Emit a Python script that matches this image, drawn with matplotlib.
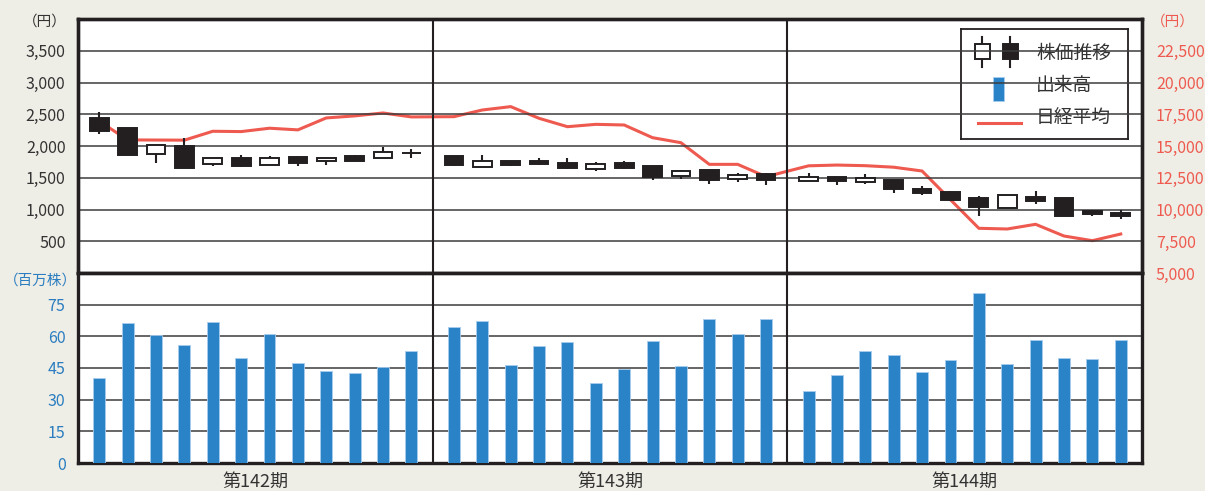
import numpy as np
import matplotlib
matplotlib.use("Agg")
import matplotlib.pyplot as plt
from matplotlib.patches import Rectangle
from matplotlib.lines import Line2D

plt.rcParams['font.family'] = ['Noto Sans CJK JP', 'DejaVu Sans']

# --- data ---
periods = ['第142期', '第143期', '第144期']

price_open = [2440, 2285, 1870, 2000, 1710, 1815, 1700, 1830, 1760, 1838, 1812, 1895,
              1835, 1675, 1763, 1763, 1727, 1644, 1732, 1680, 1520, 1629, 1479, 1557,
              1453, 1510, 1440, 1458, 1316, 1274, 1179, 1021, 1189, 1174, 979, 945]
price_high = [2540, 2285, 2012, 2120, 1810, 1865, 1840, 1840, 1815, 1855, 1985, 1960,
              1835, 1856, 1765, 1810, 1810, 1753, 1768, 1680, 1624, 1629, 1582, 1570,
              1574, 1510, 1553, 1458, 1363, 1285, 1210, 1226, 1290, 1174, 985, 985]
price_low = [2185, 1855, 1740, 1655, 1680, 1676, 1697, 1686, 1697, 1765, 1812, 1812,
             1690, 1675, 1690, 1695, 1630, 1613, 1645, 1459, 1485, 1397, 1428, 1392,
             1453, 1390, 1405, 1263, 1232, 1140, 895, 1021, 1090, 905, 905, 845]
price_close = [2240, 1855, 2012, 1655, 1805, 1680, 1805, 1740, 1810, 1770, 1912, 1895,
               1706, 1763, 1706, 1711, 1660, 1711, 1655, 1510, 1603, 1459, 1551, 1459,
               1510, 1442, 1495, 1326, 1263, 1147, 1042, 1226, 1126, 905, 937, 905]

volume = [40.1, 66.2, 60.7, 56.1, 67.0, 49.8, 61.0, 47.5, 43.6, 42.8, 45.6, 53.2,
          64.2, 67.4, 46.6, 55.5, 57.4, 37.9, 44.7, 58.0, 45.8, 68.0, 61.2, 68.3,
          33.9, 41.5, 53.2, 51.0, 43.1, 49.0, 80.3, 47.1, 58.2, 49.9, 49.3, 58.5]

nikkei = [16950, 15480, 15470, 15460, 16160, 16135, 16400, 16270, 17210, 17370, 17600, 17290,
          17310, 17835, 18100, 17180, 16520, 16705, 16655, 15655, 15260, 13555, 13555, 12585,
          13440, 13500, 13450, 13330, 13030, 10770, 8520, 8465, 8835, 7913, 7545, 8070]

price_ticks = [500, 1000, 1500, 2000, 2500, 3000, 3500]
nikkei_ticks = [5000, 7500, 10000, 12500, 15000, 17500, 20000, 22500]
volume_ticks = [0, 15, 30, 45, 60, 75]

# --- style ---
BG = '#efeee6'
K = '#231f20'
GRID = '#3c3c3c'
RED = '#ee5a4f'
BLUE = '#2a83c7'
BLUE_TXT = '#2a7dc0'
TXT = '#333333'

W, H = 1205, 491
idx = np.arange(len(volume))
xs = (idx // 12) * 12.5 + 0.75 + idx % 12
xmax = 12.5 * len(periods)

fig = plt.figure(figsize=(W / 100, H / 100), dpi=100, facecolor=BG)
ax_p = fig.add_axes([78 / W, 1 - 273 / H, 1064 / W, 254 / H])
ax_n = ax_p.twinx()
ax_v = fig.add_axes([78 / W, 1 - 463 / H, 1064 / W, 190 / H])

# price axis on top of the nikkei axis so candles cover the line
ax_p.set_zorder(ax_n.get_zorder() + 1)
ax_p.patch.set_visible(False)
ax_n.patch.set_visible(True)
ax_n.patch.set_facecolor('white')

# nikkei line
ax_n.plot(xs, nikkei, color=RED, lw=2.2, solid_joinstyle='miter')
ax_n.set_ylim(5000, 25000)
ax_n.set_yticks(nikkei_ticks)
ax_n.set_yticklabels([f'{v:,}' for v in nikkei_ticks])
ax_n.tick_params(axis='y', length=0, pad=10, labelsize=11.5, labelcolor=RED)

# candles
for x, o, h, l, c in zip(xs, price_open, price_high, price_low, price_close):
    ax_p.vlines(x, l, h, color=K, lw=1.5, zorder=3)
    up = c >= o
    ax_p.bar(x, abs(c - o), bottom=min(o, c), width=0.66,
             color='white' if up else K, edgecolor=K, lw=1.4, zorder=4)

ax_p.set_xlim(0, xmax)
ax_p.set_ylim(0, 4000)
ax_p.set_yticks(price_ticks)
ax_p.set_yticklabels([f'{v:,}' for v in price_ticks])
ax_p.tick_params(axis='y', length=0, pad=9, labelsize=11.5, labelcolor=TXT)
ax_p.set_xticks([])
ax_p.grid(axis='y', color=GRID, lw=1.1)
ax_p.set_axisbelow(True)

# volume bars
ax_v.set_facecolor('white')
ax_v.bar(xs, volume, width=0.42, color=BLUE, edgecolor='#a8cdee', lw=0.6, zorder=3)
ax_v.set_xlim(0, xmax)
ax_v.set_ylim(0, 90)
ax_v.set_yticks(volume_ticks)
ax_v.tick_params(axis='y', length=0, pad=9, labelsize=11.5, labelcolor=BLUE_TXT)
ax_v.set_xticks([])
ax_v.grid(axis='y', color=GRID, lw=1.1)
ax_v.set_axisbelow(True)

for a in (ax_p, ax_v):
    for k in range(1, len(periods)):
        a.axvline(12.5 * k, color=K, lw=1.5, zorder=5)
for a in (ax_p, ax_n, ax_v):
    for s in a.spines.values():
        s.set_color(K)
        s.set_linewidth(2.4)

# period labels
for k, name in enumerate(periods):
    cx = ax_v.transData.transform((12.5 * k + 6.25, 0))[0]
    fig.text(cx / W, 1 - 482 / H, name, ha='center', va='center', fontsize=13, color=TXT)

# unit labels
fig.text(67 / W, 1 - 22 / H, '（円）', ha='right', va='center', fontsize=10.5, color=TXT)
fig.text(1151 / W, 1 - 22 / H, '（円）', ha='left', va='center', fontsize=10.5, color=RED)
fig.text(4 / W, 1 - 281 / H, '（百万株）', ha='left', va='center', fontsize=10.5, color=BLUE_TXT)

# legend box (drawn by hand in its own small axes, pixel units)
lg = fig.add_axes([961 / W, 1 - 139 / H, 167 / W, 110 / H])
lg.set_xlim(0, 167)
lg.set_ylim(110, 0)
lg.set_xticks([])
lg.set_yticks([])
lg.set_facecolor('white')
for s in lg.spines.values():
    s.set_color(K)
    s.set_linewidth(1.3)
for cx, fill in ((21, 'white'), (49, K)):
    lg.add_line(Line2D([cx, cx], [8, 38], color=K, lw=1.5))
    lg.add_patch(Rectangle((cx - 7.5, 15.5), 15, 14.5, facecolor=fill, edgecolor=K, lw=1.4, zorder=3))
lg.add_patch(Rectangle((31.5, 48), 11, 24, facecolor=BLUE, edgecolor='#a8cdee', lw=0.6))
lg.add_line(Line2D([17, 60], [94, 94], color=RED, lw=2.2))
for ty, label in ((24, '株価推移'), (57, '出来高'), (89, '日経平均')):
    lg.text(75, ty, label, ha='left', va='center', fontsize=13.5, color=TXT)

fig.savefig('out.png', dpi=100, facecolor=BG)
